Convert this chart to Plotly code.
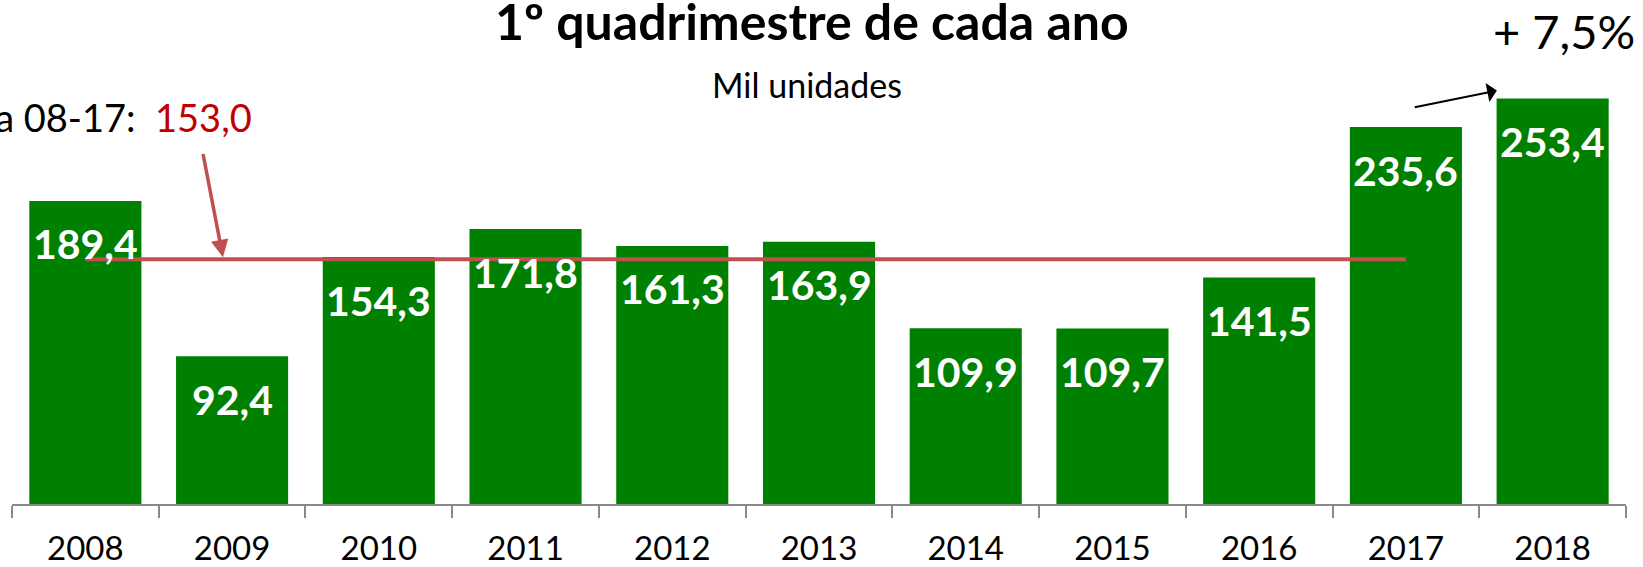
import plotly.graph_objects as go

years = ["2008", "2009", "2010", "2011", "2012", "2013", "2014", "2015", "2016", "2017", "2018"]
values = [189.4, 92.4, 154.3, 171.8, 161.3, 163.9, 109.9, 109.7, 141.5, 235.6, 253.4]
labels = ["189,4", "92,4", "154,3", "171,8", "161,3", "163,9", "109,9", "109,7", "141,5", "235,6", "253,4"]
avg_years = years[:10]
avg_value = 153.0
avg_label = "153,0"
growth_label = "+ 7,5%"
title_text = "1º quadrimestre de cada ano"
subtitle_text = "Mil unidades"

FONT = "Lato"
GREEN = "#008000"
RED_LINE = "#C0504D"

fig = go.Figure()
fig.add_trace(go.Bar(x=years, y=values, marker=dict(color=GREEN, line=dict(width=0)),
                     hoverinfo="x+y", showlegend=False))
fig.add_trace(go.Scatter(x=avg_years, y=[avg_value] * len(avg_years), mode="lines",
                         line=dict(color=RED_LINE, width=4), hoverinfo="skip", showlegend=False))

annotations = []
for i, (v, lab) in enumerate(zip(values, labels)):
    annotations.append(dict(x=i, y=v, xref="x", yref="y", text=lab, showarrow=False,
                            xanchor="center", yanchor="middle", yshift=-43,
                            font=dict(family=FONT, size=41, color="white", weight="bold")))

annotations += [
    dict(xref="paper", yref="paper", x=0.4957, y=1.040, text=title_text, showarrow=False,
         xanchor="center", yanchor="middle", font=dict(family=FONT, size=50, color="black", weight="bold")),
    dict(xref="paper", yref="paper", x=0.4926, y=0.905, text=subtitle_text, showarrow=False,
         xanchor="center", yanchor="middle", font=dict(family=FONT, size=34, color="black")),
    dict(xref="paper", yref="paper", x=0.9616, y=1.019, text=growth_label, showarrow=False,
         xanchor="center", yanchor="middle", font=dict(family=FONT, size=47, color="black")),
    dict(xref="paper", yref="paper", x=0.150, y=0.834,
         text="Média 08-17:  <span style='color:#C00000'>" + avg_label + "</span>", showarrow=False,
         xanchor="right", yanchor="middle", font=dict(family=FONT, size=38, color="black")),
    # red arrow to average line
    dict(x=0.938, y=154.2, xref="x", yref="y", ax=0.80, ay=219.7, axref="x", ayref="y",
         showarrow=True, arrowhead=2, arrowsize=1, arrowwidth=3.5, arrowcolor=RED_LINE, text=""),
    # black arrow to 2018
    dict(x=9.62, y=258.4, xref="x", yref="y", ax=9.05, ay=247.8, axref="x", ayref="y",
         showarrow=True, arrowhead=1, arrowsize=1.6, arrowwidth=2, arrowcolor="black", text=""),
]

fig.update_layout(
    width=1643, height=567,
    margin=dict(l=12, r=17, t=40, b=63, autoexpand=False),
    paper_bgcolor="white", plot_bgcolor="white",
    bargap=0.236,
    annotations=annotations,
    xaxis=dict(type="category", range=[-0.5, 10.5], tickson="boundaries", ticks="outside",
               ticklen=12, tickwidth=2, tickcolor="#898989", showline=True, linecolor="#898989",
               linewidth=2, showgrid=False, zeroline=False, ticklabelstandoff=14, automargin=False,
               tickfont=dict(family=FONT, size=33, color="black")),
    yaxis=dict(range=[0, 290], visible=False, showgrid=False, zeroline=False, automargin=False),
)

fig.write_html("out.html", config={"displayModeBar": False},
               post_script="document.body.style.margin='0px';document.body.style.padding='0px';")
